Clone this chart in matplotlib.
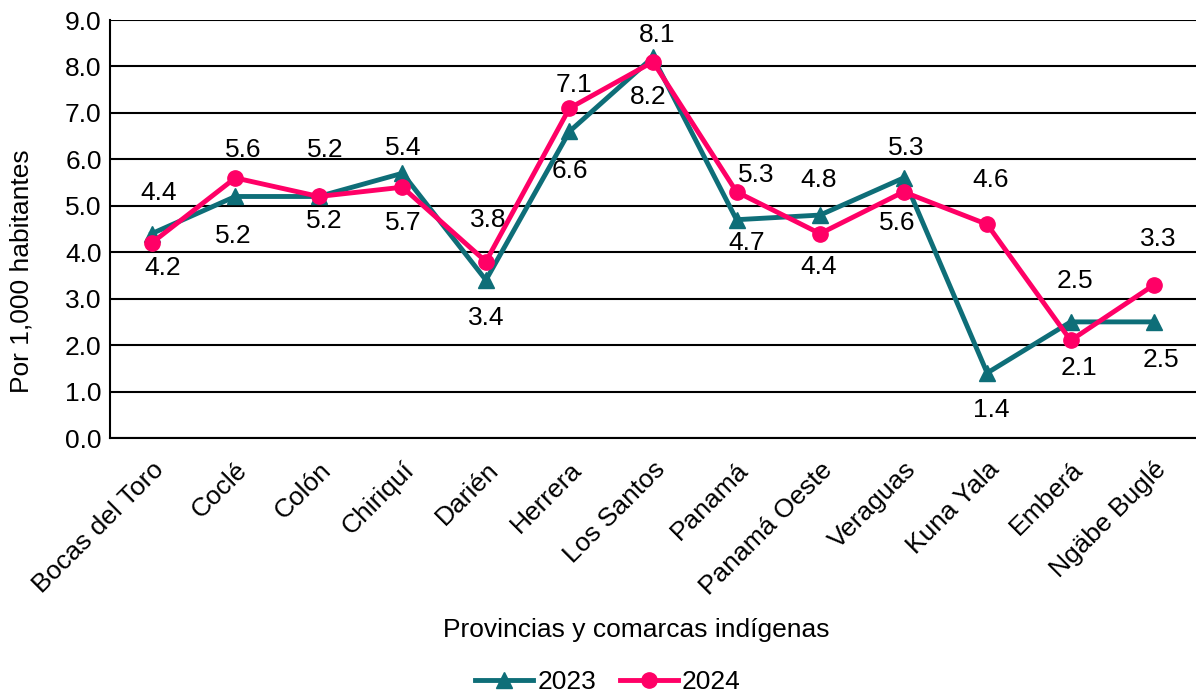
import matplotlib
matplotlib.use("Agg")
import matplotlib.pyplot as plt
import numpy as np

categories = ["Bocas del Toro", "Coclé", "Colón", "Chiriquí", "Darién", "Herrera",
              "Los Santos", "Panamá", "Panamá Oeste", "Veraguas", "Kuna Yala",
              "Emberá", "Ngäbe Buglé"]
v2023 = [4.4, 5.2, 5.2, 5.7, 3.4, 6.6, 8.2, 4.7, 4.8, 5.6, 1.4, 2.5, 2.5]
v2024 = [4.2, 5.6, 5.2, 5.4, 3.8, 7.1, 8.1, 5.3, 4.4, 5.3, 4.6, 2.1, 3.3]
yticks = [0, 1, 2, 3, 4, 5, 6, 7, 8, 9]

# label offsets in pixels (style)
off2023 = [(7, 41), (-2, -40), (5, -25), (1, -50), (0, -38), (0, -40), (-5, -40),
           (10, -23), (-1, 35), (-6, -45), (4, -37), (4, 41), (7, -38)]
off2024 = [(11, -25), (8, 28), (6, 46), (1, 39), (2, 42), (4, 23), (4, 27),
           (20, 17), (-1, -33), (3, 44), (3, 44), (8, -28), (4, 46)]

plt.rcParams['font.family'] = ['Liberation Sans', 'DejaVu Sans']
teal = "#0E6E78"
pink = "#FF0066"
FS = 19

fig = plt.figure(figsize=(11.96, 6.94), dpi=100)
ax = fig.add_axes([110/1196, 1-438/694, 1-110/1196, (438-20)/694])

x = np.arange(len(categories))
ax.plot(x, v2023, color=teal, lw=3.5, marker='^', ms=12, label='2023', zorder=3,
        clip_on=False)
ax.plot(x, v2024, color=pink, lw=3.5, marker='o', ms=11, label='2024', zorder=4,
        clip_on=False)

for i in range(len(categories)):
    ax.annotate(f"{v2023[i]:.1f}", (x[i], v2023[i]), xytext=off2023[i],
                textcoords='offset pixels', ha='center', va='center', fontsize=FS)
    ax.annotate(f"{v2024[i]:.1f}", (x[i], v2024[i]), xytext=off2024[i],
                textcoords='offset pixels', ha='center', va='center', fontsize=FS)

ax.set_xlim(-0.5, len(categories) - 0.5)
ax.set_ylim(0, 9)
ax.set_yticks(yticks)
ax.set_yticklabels([f"{t:.1f}" for t in yticks], fontsize=FS)
ax.yaxis.grid(True, color='black', lw=1.5)
ax.set_axisbelow(True)
ax.set_xticks(x)
ax.set_xticklabels(categories, rotation=45, ha='right', rotation_mode='anchor',
                   fontsize=FS)
ax.tick_params(axis='both', length=0)
ax.tick_params(axis='x', pad=14)
ax.tick_params(axis='y', pad=6)
for s in ['top', 'right']:
    ax.spines[s].set_visible(False)
ax.spines['left'].set_color('black')
ax.spines['left'].set_linewidth(1.5)
ax.spines['bottom'].set_color('black')
ax.spines['bottom'].set_linewidth(1.5)

fig.text(22/1196, 1-271/694, "Por 1,000 habitantes", rotation=90, ha='center',
         va='center', fontsize=FS)
fig.text(636/1196, 1-630/694, "Provincias y comarcas indígenas", ha='center',
         va='center', fontsize=FS)

leg = fig.legend(loc='center', bbox_to_anchor=(608/1196, 1-682/694), ncol=2,
                 frameon=False, fontsize=FS, handlelength=2.2, columnspacing=0.9,
                 handletextpad=0.15, borderpad=0)

fig.savefig("out.png", dpi=100)
